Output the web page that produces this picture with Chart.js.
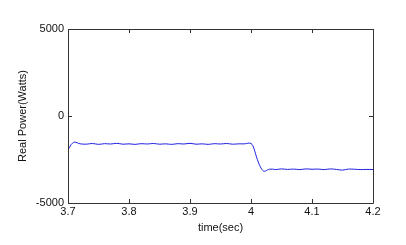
<!DOCTYPE html>
<html lang="en">
<head>
    <meta charset="UTF-8">
    <script src="https://cdn.jsdelivr.net/npm/chart.js"></script>
    <title>Real Power</title>
    <style>
        body { margin: 0; background: #fff; }
        canvas { display: block; }
    </style>
</head>
<body>
    <canvas id="powerChart" width="406" height="245"></canvas>

    <script>
        // Data
        const timeSec = [
            3.700, 3.705, 3.710, 3.715, 3.720, 3.730, 3.740, 3.750, 3.760, 3.770,
            3.780, 3.790, 3.800, 3.810, 3.820, 3.830, 3.840, 3.850, 3.860, 3.870,
            3.880, 3.890, 3.900, 3.910, 3.920, 3.930, 3.940, 3.950, 3.960, 3.970,
            3.980, 3.990, 3.995, 4.000, 4.003, 4.006, 4.009, 4.012, 4.015, 4.018,
            4.021, 4.024, 4.027, 4.030, 4.035, 4.040, 4.050, 4.060, 4.070, 4.080,
            4.090, 4.100, 4.110, 4.120, 4.130, 4.140, 4.150, 4.160, 4.170, 4.180,
            4.190, 4.200
        ];
        const realPower = [
            -1950, -1650, -1500, -1540, -1600, -1620, -1580, -1630, -1590, -1610,
            -1570, -1620, -1600, -1630, -1590, -1610, -1580, -1620, -1600, -1630,
            -1590, -1610, -1570, -1620, -1600, -1630, -1590, -1610, -1580, -1620,
            -1600, -1600, -1560, -1580, -1700, -2000, -2350, -2650, -2900, -3080,
            -3170, -3160, -3100, -3060, -3050, -3080, -3040, -3070, -3050, -3080,
            -3040, -3060, -3050, -3080, -3040, -3070, -3110, -3050, -3060, -3080,
            -3070, -3075
        ];
        const xTicks = [3.7, 3.8, 3.9, 4, 4.1, 4.2];
        const yTicks = [-5000, 0, 5000];

        // MATLAB style box with inward ticks
        const boxPlugin = {
            id: 'box',
            afterDatasetsDraw(chart) {
                const { ctx, chartArea: a, scales } = chart;
                ctx.save();
                ctx.strokeStyle = '#333';
                ctx.lineWidth = 1;
                ctx.beginPath();
                ctx.rect(Math.round(a.left) + 0.5, Math.round(a.top) + 0.5,
                    Math.round(a.right - a.left), Math.round(a.bottom - a.top));
                const len = 4;
                xTicks.forEach(v => {
                    const x = Math.round(scales.x.getPixelForValue(v)) + 0.5;
                    ctx.moveTo(x, a.bottom); ctx.lineTo(x, a.bottom - len);
                    ctx.moveTo(x, a.top); ctx.lineTo(x, a.top + len);
                });
                yTicks.forEach(v => {
                    const y = Math.round(scales.y.getPixelForValue(v)) + 0.5;
                    ctx.moveTo(a.left, y); ctx.lineTo(a.left + len, y);
                    ctx.moveTo(a.right, y); ctx.lineTo(a.right - len, y);
                });
                ctx.stroke();
                ctx.restore();
            }
        };

        const font = { family: 'Liberation Sans, Arial, sans-serif', size: 11 };

        const ctx = document.getElementById('powerChart').getContext('2d');
        const powerChart = new Chart(ctx, {
            type: 'line',
            data: {
                labels: timeSec,
                datasets: [{
                    data: timeSec.map((t, i) => ({ x: t, y: realPower[i] })),
                    borderColor: 'rgb(30,30,225)',
                    borderWidth: 1,
                    pointRadius: 0,
                    tension: 0.3,
                    fill: false
                }]
            },
            options: {
                responsive: false,
                animation: false,
                layout: { padding: { left: 16, top: 29, right: 33, bottom: 10 } },
                plugins: { legend: { display: false }, tooltip: { enabled: false } },
                scales: {
                    x: {
                        type: 'linear',
                        min: 3.7,
                        max: 4.2,
                        afterBuildTicks: s => { s.ticks = xTicks.map(v => ({ value: v })); },
                        afterFit: s => { s.height = 32; },
                        grid: { display: false, drawTicks: false },
                        border: { display: false },
                        ticks: { color: '#111', font: font, padding: 2, maxRotation: 0,
                            callback: v => String(v) },
                        title: { display: true, text: 'time(sec)', color: '#111', font: font,
                            padding: 0 }
                    },
                    y: {
                        min: -5000,
                        max: 5000,
                        afterBuildTicks: s => { s.ticks = yTicks.map(v => ({ value: v })); },
                        afterFit: s => { s.width = 52; },
                        grid: { display: false, drawTicks: false },
                        border: { display: false },
                        ticks: { color: '#111', font: font, padding: 4,
                            callback: v => String(v) },
                        title: { display: true, text: 'Real Power(Watts)', color: '#111', font: font,
                            padding: 0 }
                    }
                }
            },
            plugins: [boxPlugin]
        });
    </script>
</body>
</html>
